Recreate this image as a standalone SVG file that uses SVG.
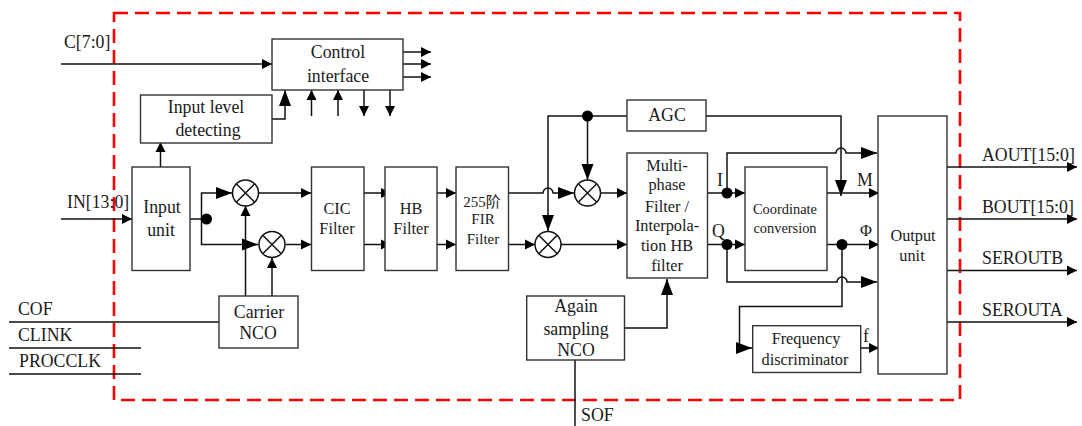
<svg xmlns="http://www.w3.org/2000/svg" width="1082" height="426" viewBox="0 0 1082 426">
<style>
text{font-family:"Liberation Serif","Noto Sans CJK SC",serif;font-size:17.800px;fill:#1a1a1a}
.m{text-anchor:middle}
.s{font-size:16.300px}
.f{font-size:15px}
.c{font-size:14.400px}
.box{fill:#fff;stroke:#333;stroke-width:1.4}
.w{fill:none;stroke:#111;stroke-width:1.5}
.dot{fill:#000}
.mix{fill:#fff;stroke:#111;stroke-width:1.5}
</style>
<defs>
<marker id="a" markerUnits="userSpaceOnUse" markerWidth="11" markerHeight="12" refX="10" refY="6" orient="auto"><path d="M0 1L10 6L0 11Z"/></marker>
<marker id="b" markerUnits="userSpaceOnUse" markerWidth="17" markerHeight="14" refX="16" refY="7" orient="auto"><path d="M0 1L16 7L0 13Z"/></marker>
<g id="x"><circle class="mix" r="13"/><path class="w" d="M-9-9L9 9M-9 9L9-9"/></g>
</defs>
<rect id="boundary" x="114" y="13" width="846" height="387" fill="none" stroke="#f00" stroke-width="2.6" stroke-dasharray="14 7"/>
<g id="connectors">
<path class="w" marker-end="url(#a)" d="M61 64H272"/>
<path class="w" marker-end="url(#a)" d="M403 52H431"/>
<path class="w" marker-end="url(#a)" d="M403 64H431"/>
<path class="w" marker-end="url(#a)" d="M403 77H431"/>
<path class="w" marker-end="url(#a)" d="M311.500 116V90"/>
<path class="w" marker-end="url(#a)" d="M338 116V90"/>
<path class="w" marker-end="url(#a)" d="M364 90V116"/>
<path class="w" marker-end="url(#a)" d="M390 90V116"/>
<path class="w" marker-end="url(#b)" d="M272 119H285V90"/>
<path class="w" marker-end="url(#a)" d="M160.500 167V142"/>
<path class="w" marker-end="url(#a)" d="M61 219H132"/>
<path class="w" marker-end="url(#b)" d="M190 219H201.500V193H232"/>
<path class="w" marker-end="url(#b)" d="M201.500 219V244.500H258"/>
<path class="w" marker-end="url(#a)" d="M245.500 296V206"/>
<path class="w" marker-end="url(#a)" d="M272 296V258"/>
<path class="w" d="M9 322H219M9 348H141M9 374H141"/>
<path class="w" marker-end="url(#a)" d="M259 193H311"/>
<path class="w" marker-end="url(#a)" d="M286 244.500H311"/>
<path class="w" marker-end="url(#a)" d="M364 193H391"/>
<path class="w" marker-end="url(#a)" d="M364 244.500H391"/>
<path class="w" marker-end="url(#a)" d="M430 193H456"/>
<path class="w" marker-end="url(#a)" d="M430 244.500H456"/>
<path class="w" marker-end="url(#b)" d="M509 193H543A5 5 0 0 1 553 193H574"/>
<path class="w" marker-end="url(#a)" d="M509 244.500H535"/>
<path class="w" marker-end="url(#b)" d="M627 116H548V231"/>
<path class="w" marker-end="url(#b)" d="M587.500 116V180"/>
<path class="w" marker-end="url(#a)" d="M600 193H627"/>
<path class="w" marker-end="url(#a)" d="M561 244.500H627"/>
<path class="w" marker-end="url(#a)" d="M707 193H745"/>
<path class="w" marker-end="url(#a)" d="M707 244.500H745"/>
<path class="w" marker-end="url(#b)" d="M727 193V153H836A5 5 0 0 1 846 153H877"/>
<path class="w" marker-end="url(#b)" d="M727 244.500V282H837A5 5 0 0 1 847 282H877"/>
<path class="w" marker-end="url(#b)" d="M706 116H841V196"/>
<path class="w" marker-end="url(#a)" d="M827 193H879"/>
<path class="w" marker-end="url(#a)" d="M827 244.500H879"/>
<path class="w" marker-end="url(#b)" d="M842 244.500V306.500H739.500V348H752"/>
<path class="w" marker-end="url(#a)" d="M861 348H879"/>
<path class="w" marker-end="url(#a)" d="M945 167H1077"/>
<path class="w" marker-end="url(#a)" d="M945 219H1077"/>
<path class="w" marker-end="url(#a)" d="M945 270.500H1077"/>
<path class="w" marker-end="url(#a)" d="M945 322H1077"/>
<path class="w" marker-end="url(#b)" d="M624 328H667V279"/>
<path class="w" d="M575 360V426"/>
<circle class="dot" cx="206.500" cy="219" r="5.500"/>
<circle class="dot" cx="587.500" cy="116" r="5.500"/>
<circle class="dot" cx="727" cy="193" r="5.500"/>
<circle class="dot" cx="727" cy="244.500" r="5.500"/>
<circle class="dot" cx="842" cy="244.500" r="5.500"/>
</g>
<g id="control"><rect class="box" x="272" y="39" width="131" height="51"/><text class="m" x="338" y="58">Control</text><text class="m" x="338" y="82">interface</text></g>
<g id="level"><rect class="box" x="140.500" y="95" width="131.500" height="48"/><text class="m" x="206" y="113">Input level</text><text class="m" x="208" y="136">detecting</text></g>
<g id="input"><rect class="box" x="132" y="167" width="58" height="103.500"/><text class="m" x="162" y="213">Input</text><text class="m" x="161" y="236">unit</text></g>
<g id="mix1"><use href="#x" x="245.500" y="193"/></g>
<g id="mix2"><use href="#x" x="272" y="244.500"/></g>
<g id="cic"><rect class="box" x="311.500" y="167" width="52.500" height="103.500"/><text class="m s" x="337" y="214">CIC</text><text class="m s" x="337" y="234">Filter</text></g>
<g id="hb"><rect class="box" x="385" y="167" width="52" height="103.500"/><text class="m s" x="411" y="214">HB</text><text class="m s" x="411" y="234">Filter</text></g>
<g id="fir"><rect class="box" x="456" y="167" width="52.500" height="103.500"/><text class="m f" x="482" y="207">255阶</text><text class="m f" x="483" y="224">FIR</text><text class="m f" x="483" y="244">Filter</text></g>
<g id="mix3"><use href="#x" x="587.500" y="193"/></g>
<g id="mix4"><use href="#x" x="548" y="244.500"/></g>
<g id="agc"><rect class="box" x="627" y="100" width="79" height="31"/><text class="m" x="667" y="121">AGC</text></g>
<g id="multi"><rect class="box" x="627" y="153" width="80.500" height="125"/><text class="m s" x="667" y="171">Multi-</text><text class="m s" x="667" y="190">phase</text><text class="m s" x="667" y="212">Filter /</text><text class="m s" x="667" y="231">Interpola-</text><text class="m s" x="667" y="251">tion HB</text><text class="m s" x="667" y="271">filter</text></g>
<g id="coord"><rect class="box" x="745" y="167" width="82" height="103.500"/><text class="m c" x="785" y="214">Coordinate</text><text class="m c" x="785" y="233">conversion</text></g>
<g id="output"><rect class="box" x="878" y="116" width="69" height="258"/><text class="m s" x="913" y="241">Output</text><text class="m s" x="912" y="261">unit</text></g>
<g id="freq"><rect class="box" x="752.700" y="325.700" width="108" height="46.800"/><text class="m s" x="806" y="344">Frequency</text><text class="m s" x="805" y="365">discriminator</text></g>
<g id="carrier"><rect class="box" x="219" y="296" width="79" height="52"/><text class="m" x="259" y="318">Carrier</text><text class="m" x="258" y="339">NCO</text></g>
<g id="again"><rect class="box" x="526.700" y="296" width="97.800" height="64"/><text class="m" x="576" y="312">Again</text><text class="m" x="576" y="335">sampling</text><text class="m" x="576" y="356">NCO</text></g>
<g id="labels">
<text x="64" y="48">C[7:0]</text><text x="67" y="208">IN[13:0]</text><text x="18" y="315">COF</text><text x="18" y="341">CLINK</text><text x="19" y="367">PROCCLK</text><text x="581" y="421">SOF</text>
<text x="717" y="186">I</text><text x="712" y="237">Q</text><text x="857" y="186">M</text><text x="860" y="236" class="s">Φ</text><text x="863" y="342">f</text>
<text x="982" y="161">AOUT[15:0]</text><text x="982" y="213">BOUT[15:0]</text><text x="982" y="264">SEROUTB</text><text x="982" y="316">SEROUTA</text>
</g>
</svg>
